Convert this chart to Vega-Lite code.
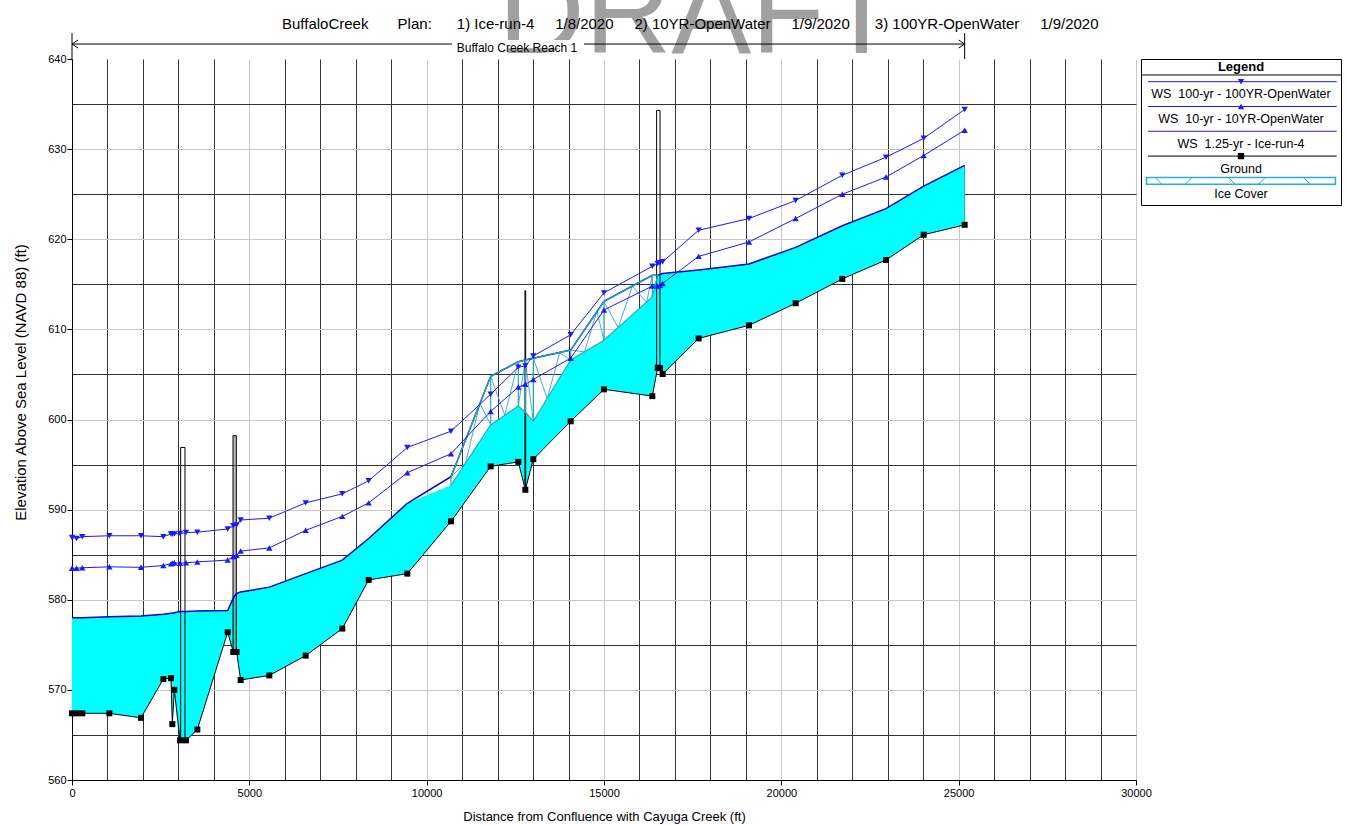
{
  "$schema": "https://vega.github.io/schema/vega-lite/v6.json",
  "autosize": {"type": "none"},
  "padding": {"left": 72, "top": 59, "right": 1275, "bottom": 766},
  "background": "white",
  "config": {"font": "Liberation Sans", "view": {"stroke": null}},
  "datasets": {
    "profile": [
      {"sta": 0, "ground": 567.4, "ws_ice": 578.0, "ice_fill_top": 578.0, "ws_10": 583.5, "ws_100": 586.9},
      {"sta": 130, "ground": 567.4, "ws_ice": 578.0, "ice_fill_top": 578.0, "ws_10": 583.5, "ws_100": 586.8},
      {"sta": 290, "ground": 567.4, "ws_ice": 578.0, "ice_fill_top": 578.0, "ws_10": 583.55, "ws_100": 587.0},
      {"sta": 1053, "ground": 567.4, "ws_ice": 578.1, "ice_fill_top": 578.1, "ws_10": 583.65, "ws_100": 587.1},
      {"sta": 1946, "ground": 566.9, "ws_ice": 578.2, "ice_fill_top": 578.2, "ws_10": 583.6, "ws_100": 587.1},
      {"sta": 2575, "ground": 571.2, "ws_ice": 578.4, "ice_fill_top": 578.4, "ws_10": 583.8, "ws_100": 587.0},
      {"sta": 2791, "ground": 571.3, "ws_ice": 578.5, "ice_fill_top": 578.5, "ws_10": 584.0, "ws_100": 587.3},
      {"sta": 2829, "ground": 566.2, "ws_ice": 578.5, "ice_fill_top": 578.5, "ws_10": 584.05, "ws_100": 587.3},
      {"sta": 2885, "ground": 570.0, "ws_ice": 578.55, "ice_fill_top": 578.55, "ws_10": 584.1, "ws_100": 587.3},
      {"sta": 3045, "ground": 564.4, "ws_ice": 578.7, "ice_fill_top": 578.7, "ws_10": 584.05, "ws_100": 587.35},
      {"sta": 3214, "ground": 564.4, "ws_ice": 578.7, "ice_fill_top": 578.7, "ws_10": 584.1, "ws_100": 587.45},
      {"sta": 3534, "ground": 565.6, "ws_ice": 578.75, "ice_fill_top": 578.75, "ws_10": 584.2, "ws_100": 587.5},
      {"sta": 4390, "ground": 576.4, "ws_ice": 578.8, "ice_fill_top": 578.8, "ws_10": 584.4, "ws_100": 587.85},
      {"sta": 4548, "ground": 574.2, "ws_ice": 580.2, "ice_fill_top": 580.2, "ws_10": 584.8, "ws_100": 588.2},
      {"sta": 4642, "ground": 574.2, "ws_ice": 580.7, "ice_fill_top": 580.7, "ws_10": 584.95, "ws_100": 588.3},
      {"sta": 4755, "ground": 571.1, "ws_ice": 580.85, "ice_fill_top": 580.85, "ws_10": 585.4, "ws_100": 588.85},
      {"sta": 5563, "ground": 571.6, "ws_ice": 581.4, "ice_fill_top": 581.4, "ws_10": 585.75, "ws_100": 589.05},
      {"sta": 6588, "ground": 573.8, "ws_ice": 582.9, "ice_fill_top": 582.9, "ws_10": 587.7, "ws_100": 590.75},
      {"sta": 7621, "ground": 576.8, "ws_ice": 584.4, "ice_fill_top": 584.4, "ws_10": 589.25, "ws_100": 591.75},
      {"sta": 8365, "ground": 582.2, "ws_ice": 586.8, "ice_fill_top": 586.8, "ws_10": 590.75, "ws_100": 593.2},
      {"sta": 9455, "ground": 582.9, "ws_ice": 590.7, "ice_fill_top": 590.7, "ws_10": 594.1, "ws_100": 596.9},
      {"sta": 10686, "ground": 588.7, "ws_ice": 593.65, "ice_fill_top": 592.7, "ws_10": 596.2, "ws_100": 598.7},
      {"sta": 11805, "ground": 594.8, "ws_ice": 604.8, "ice_fill_top": 599.4, "ws_10": 600.9, "ws_100": 602.8},
      {"sta": 12584, "ground": 595.3, "ws_ice": 606.4, "ice_fill_top": 601.5, "ws_10": 603.6, "ws_100": 605.8},
      {"sta": 12782, "ground": 592.2, "ws_ice": 606.6, "ice_fill_top": 600.8, "ws_10": 603.9, "ws_100": 605.95},
      {"sta": 13007, "ground": 595.6, "ws_ice": 606.8, "ice_fill_top": 599.8, "ws_10": 604.45, "ws_100": 607.05},
      {"sta": 14060, "ground": 599.8, "ws_ice": 607.7, "ice_fill_top": 606.6, "ws_10": 606.8, "ws_100": 609.4},
      {"sta": 14999, "ground": 603.35, "ws_ice": 613.1, "ice_fill_top": 608.8, "ws_10": 612.15, "ws_100": 614.05},
      {"sta": 16362, "ground": 602.6, "ws_ice": 616.0, "ice_fill_top": 613.6, "ws_10": 614.8, "ws_100": 617.0},
      {"sta": 16513, "ground": 605.75, "ws_ice": 616.0, "ice_fill_top": 616.0, "ws_10": 614.8, "ws_100": 617.3},
      {"sta": 16579, "ground": 605.7, "ws_ice": 616.1, "ice_fill_top": 616.1, "ws_10": 614.9, "ws_100": 617.4},
      {"sta": 16654, "ground": 605.05, "ws_ice": 616.2, "ice_fill_top": 616.2, "ws_10": 615.1, "ws_100": 617.5},
      {"sta": 17669, "ground": 609.0, "ws_ice": 616.6, "ice_fill_top": 616.6, "ws_10": 618.1, "ws_100": 621.0},
      {"sta": 19088, "ground": 610.45, "ws_ice": 617.25, "ice_fill_top": 617.25, "ws_10": 619.7, "ws_100": 622.3},
      {"sta": 20404, "ground": 612.9, "ws_ice": 619.1, "ice_fill_top": 619.1, "ws_10": 622.3, "ws_100": 624.3},
      {"sta": 21719, "ground": 615.6, "ws_ice": 621.5, "ice_fill_top": 621.5, "ws_10": 625.0, "ws_100": 627.1},
      {"sta": 22951, "ground": 617.7, "ws_ice": 623.4, "ice_fill_top": 623.4, "ws_10": 626.9, "ws_100": 629.1},
      {"sta": 24014, "ground": 620.5, "ws_ice": 625.9, "ice_fill_top": 625.9, "ws_10": 629.3, "ws_100": 631.2},
      {"sta": 25169, "ground": 621.6, "ws_ice": 628.2, "ice_fill_top": 628.2, "ws_10": 632.1, "ws_100": 634.4}
    ],
    "ice_hatch": [
      {"poly": "A", "sta": 10686, "elev": 593.65},
      {"poly": "A", "sta": 11100, "elev": 595.2},
      {"poly": "A", "sta": 11500, "elev": 601.8},
      {"poly": "A", "sta": 11805, "elev": 599.4},
      {"poly": "B", "sta": 11805, "elev": 604.8},
      {"poly": "B", "sta": 12200, "elev": 600.5},
      {"poly": "B", "sta": 12584, "elev": 606.4},
      {"poly": "C", "sta": 12584, "elev": 601.5},
      {"poly": "C", "sta": 12782, "elev": 606.6},
      {"poly": "C", "sta": 13007, "elev": 599.8},
      {"poly": "E", "sta": 13007, "elev": 606.8},
      {"poly": "E", "sta": 13400, "elev": 602.3},
      {"poly": "E", "sta": 13750, "elev": 607.4},
      {"poly": "E", "sta": 14060, "elev": 606.6},
      {"poly": "F", "sta": 14060, "elev": 607.7},
      {"poly": "F", "sta": 14450, "elev": 607.5},
      {"poly": "F", "sta": 14800, "elev": 612.0},
      {"poly": "F", "sta": 14999, "elev": 608.8},
      {"poly": "G", "sta": 14999, "elev": 613.1},
      {"poly": "G", "sta": 15400, "elev": 610.2},
      {"poly": "G", "sta": 15800, "elev": 614.8},
      {"poly": "G", "sta": 16200, "elev": 613.0},
      {"poly": "G", "sta": 16362, "elev": 616.0}
    ],
    "bridges": [
      {"name": "Bridge 1", "sta_ds": 3064, "sta_us": 3186, "bottom": 564.4, "top": 596.9},
      {"name": "Bridge 2", "sta_ds": 4540, "sta_us": 4633, "bottom": 574.2, "top": 598.2},
      {"name": "Bridge 3", "sta_ds": 12772, "sta_us": 12792, "bottom": 592.2, "top": 614.3},
      {"name": "Bridge 4", "sta_ds": 16484, "sta_us": 16579, "bottom": 605.7, "top": 634.3}
    ],
    "reach": [
      {"reach": "Buffalo Creek Reach 1", "ds_sta": 0, "us_sta": 25169}
    ],
    "legend": [
      {"i": 0, "kind": "ws100", "item": "WS\u00a0\u00a0100-yr - 100YR-OpenWater"},
      {"i": 1, "kind": "ws10", "item": "WS\u00a0\u00a010-yr - 10YR-OpenWater"},
      {"i": 2, "kind": "wsIce", "item": "WS\u00a0\u00a01.25-yr - Ice-run-4"},
      {"i": 3, "kind": "ground", "item": "Ground"},
      {"i": 4, "kind": "ice", "item": "Ice Cover"}
    ]
  },
  "hconcat": [
    {
      "width": 1064,
      "height": 721,
      "data": {"name": "profile"},
      "resolve": {"axis": {"x": "independent", "y": "independent"}},
      "layer": [
        {
          "mark": {"type": "point", "opacity": 0},
          "encoding": {
            "x": {"field": "sta", "type": "quantitative",
              "scale": {"domain": [0, 30000], "nice": false, "zero": false},
              "axis": {"orient": "top", "values": [1000, 2000, 3000, 4000, 6000, 7000, 8000, 9000, 11000, 12000, 13000, 14000, 16000, 17000, 18000, 19000, 21000, 22000, 23000, 24000, 26000, 27000, 28000, 29000],
                "grid": true, "gridColor": "#333333", "labels": false, "ticks": false, "domain": false, "title": null}},
            "y": {"field": "ground", "type": "quantitative",
              "scale": {"domain": [560, 640], "nice": false, "zero": false},
              "axis": {"orient": "right", "values": [565, 575, 585, 595, 605, 615, 625, 635],
                "grid": true, "gridColor": "#333333", "labels": false, "ticks": false, "domain": false, "title": null}}
          }
        },
        {
          "mark": {"type": "point", "opacity": 0},
          "encoding": {
            "x": {"field": "sta", "type": "quantitative",
              "axis": {"orient": "bottom", "values": [0, 5000, 10000, 15000, 20000, 25000, 30000], "format": "d",
                "grid": true, "gridColor": "#c8c8c8", "domainColor": "black", "tickColor": "black", "tickSize": 5,
                "labelFontSize": 11, "labelColor": "black", "labelPadding": 2, "labelFlush": false,
                "title": "Distance from Confluence with Cayuga Creek (ft)", "titleFontSize": 13, "titleFontWeight": "normal",
                "titleColor": "black", "titlePadding": 12}},
            "y": {"field": "ground", "type": "quantitative",
              "axis": {"orient": "left", "values": [560, 570, 580, 590, 600, 610, 620, 630, 640],
                "grid": true, "gridColor": {"condition": {"test": "datum.value >= 640", "value": "transparent"}, "value": "#c8c8c8"},
                "domainColor": "black", "tickColor": "black", "tickSize": 5,
                "labelFontSize": 11, "labelColor": "black", "labelPadding": 1,
                "title": "Elevation Above Sea Level (NAVD 88) (ft)", "titleFontSize": 15, "titleFontWeight": "normal",
                "titleColor": "black", "titleX": -52, "titleY": 323, "titleAngle": -90, "titleAlign": "center", "titleBaseline": "middle"}}
          }
        },
        {
          "layer": [
            {
              "data": {"name": "reach"},
              "mark": {"type": "text", "text": "DRAFT", "fontSize": 120, "color": "#a0a0a0", "align": "center", "baseline": "alphabetic"},
              "encoding": {
                "x": {"datum": 17650, "type": "quantitative", "axis": null},
                "y": {"datum": 640.67, "type": "quantitative", "axis": null}
              }
            },
            {
              "data": {"name": "reach"},
              "mark": {"type": "text", "text": "BuffaloCreek\u00a0\u00a0\u00a0\u00a0\u00a0\u00a0\u00a0Plan:\u00a0\u00a0\u00a0\u00a0\u00a0\u00a01) Ice-run-4\u00a0\u00a0\u00a0\u00a0\u00a01/8/2020\u00a0\u00a0\u00a0\u00a0\u00a02) 10YR-OpenWater\u00a0\u00a0\u00a0\u00a0\u00a01/9/2020\u00a0\u00a0\u00a0\u00a0\u00a0\u00a03) 100YR-OpenWater\u00a0\u00a0\u00a0\u00a0\u00a01/9/2020",
                "fontSize": 15, "color": "black", "align": "left", "baseline": "alphabetic"},
              "encoding": {
                "x": {"datum": 5921, "type": "quantitative", "axis": null},
                "y": {"datum": 643.28, "type": "quantitative", "axis": null}
              }
            },
            {
              "data": {"name": "reach"},
              "mark": {"type": "rule", "color": "black", "strokeWidth": 1},
              "encoding": {
                "x": {"field": "ds_sta", "type": "quantitative", "axis": null},
                "x2": {"field": "us_sta"},
                "y": {"datum": 641.66, "type": "quantitative", "axis": null}
              }
            },
            {
              "data": {"name": "reach"},
              "mark": {"type": "rect", "color": "white", "opacity": 1},
              "encoding": {
                "x": {"datum": 10714, "type": "quantitative", "axis": null},
                "x2": {"datum": 14436},
                "y": {"datum": 641.2, "type": "quantitative", "axis": null},
                "y2": {"datum": 642.1}
              }
            },
            {
              "data": {"name": "reach"},
              "mark": {"type": "text", "fontSize": 12, "color": "black", "align": "center", "baseline": "alphabetic"},
              "encoding": {
                "text": {"field": "reach"},
                "x": {"datum": 12547, "type": "quantitative", "axis": null},
                "y": {"datum": 640.78, "type": "quantitative", "axis": null}
              }
            },
            {
              "data": {"name": "reach"},
              "mark": {"type": "rule", "color": "black", "strokeWidth": 1},
              "encoding": {
                "x": {"field": "ds_sta", "type": "quantitative", "axis": null},
                "y": {"datum": 640, "type": "quantitative", "axis": null},
                "y2": {"datum": 642.88}
              }
            },
            {
              "data": {"name": "reach"},
              "mark": {"type": "rule", "color": "black", "strokeWidth": 1},
              "encoding": {
                "x": {"field": "us_sta", "type": "quantitative", "axis": null},
                "y": {"datum": 640, "type": "quantitative", "axis": null},
                "y2": {"datum": 642.88}
              }
            },
            {
              "data": {"name": "reach"},
              "mark": {"type": "point", "shape": "M 1.5 -1 L 0 0 L 1.5 1", "size": 64, "filled": false, "color": "black", "strokeWidth": 1, "opacity": 1},
              "encoding": {
                "x": {"field": "ds_sta", "type": "quantitative", "axis": null},
                "y": {"datum": 641.66, "type": "quantitative", "axis": null}
              }
            },
            {
              "data": {"name": "reach"},
              "mark": {"type": "point", "shape": "M -1.5 -1 L 0 0 L -1.5 1", "size": 64, "filled": false, "color": "black", "strokeWidth": 1, "opacity": 1},
              "encoding": {
                "x": {"field": "us_sta", "type": "quantitative", "axis": null},
                "y": {"datum": 641.66, "type": "quantitative", "axis": null}
              }
            },
            {
              "mark": {"type": "area", "color": "#00ffff", "opacity": 1},
              "encoding": {
                "x": {"field": "sta", "type": "quantitative", "axis": null},
                "y": {"field": "ice_fill_top", "type": "quantitative", "axis": null},
                "y2": {"field": "ground"}
              }
            },
            {
              "data": {"name": "ice_hatch"},
              "mark": {"type": "line", "color": "#4aa8f0", "strokeWidth": 1},
              "encoding": {
                "x": {"field": "sta", "type": "quantitative", "axis": null},
                "y": {"field": "elev", "type": "quantitative", "axis": null},
                "detail": {"field": "poly"}
              }
            },
            {
              "transform": [{"filter": "datum.sta == 25169"}],
              "mark": {"type": "rule", "color": "#1fa5a5", "strokeWidth": 1},
              "encoding": {
                "x": {"field": "sta", "type": "quantitative", "axis": null},
                "y": {"field": "ground", "type": "quantitative", "axis": null},
                "y2": {"field": "ws_ice"}
              }
            },
            {
              "data": {"name": "bridges"},
              "transform": [{"filter": "datum.name != 'Bridge 2'"}],
              "mark": {"type": "rect", "fill": "white", "fillOpacity": 0, "stroke": "black", "strokeWidth": 1},
              "encoding": {
                "x": {"field": "sta_ds", "type": "quantitative", "axis": null},
                "x2": {"field": "sta_us"},
                "y": {"field": "bottom", "type": "quantitative", "axis": null},
                "y2": {"field": "top"}
              }
            },
            {
              "data": {"name": "bridges"},
              "transform": [{"filter": "datum.name == 'Bridge 2'"}],
              "mark": {"type": "rect", "fill": "#808080", "fillOpacity": 0.5, "stroke": "black", "strokeWidth": 1},
              "encoding": {
                "x": {"field": "sta_ds", "type": "quantitative", "axis": null},
                "x2": {"field": "sta_us"},
                "y": {"field": "bottom", "type": "quantitative", "axis": null},
                "y2": {"field": "top"}
              }
            },
            {
              "mark": {"type": "line", "color": "black", "strokeWidth": 1,
                "point": {"shape": "square", "size": 36, "filled": true, "color": "black", "opacity": 1}},
              "encoding": {
                "x": {"field": "sta", "type": "quantitative", "axis": null},
                "y": {"field": "ground", "type": "quantitative", "axis": null}
              }
            },
            {
              "mark": {"type": "line", "color": "#0000cc", "strokeWidth": 1.5},
              "encoding": {
                "x": {"field": "sta", "type": "quantitative", "axis": null},
                "y": {"field": "ws_ice", "type": "quantitative", "axis": null}
              }
            },
            {
              "transform": [{"filter": "datum.sta >= 10686 && datum.sta <= 16513"}],
              "mark": {"type": "line", "color": "#22b0b0", "strokeWidth": 1.2},
              "encoding": {
                "x": {"field": "sta", "type": "quantitative", "axis": null},
                "y": {"field": "ice_fill_top", "type": "quantitative", "axis": null}
              }
            },
            {
              "transform": [{"filter": "datum.sta >= 10686 && datum.sta <= 16513"}],
              "mark": {"type": "line", "color": "#22b0b0", "strokeWidth": 1.2},
              "encoding": {
                "x": {"field": "sta", "type": "quantitative", "axis": null},
                "y": {"field": "ws_ice", "type": "quantitative", "axis": null}
              }
            },
            {
              "transform": [{"filter": "datum.ws_ice - datum.ice_fill_top > 0.2"}],
              "mark": {"type": "rule", "color": "#22b0b0", "strokeWidth": 1.2},
              "encoding": {
                "x": {"field": "sta", "type": "quantitative", "axis": null},
                "y": {"field": "ice_fill_top", "type": "quantitative", "axis": null},
                "y2": {"field": "ws_ice"}
              }
            },
            {
              "mark": {"type": "line", "color": "#1a1aff", "strokeWidth": 1,
                "point": {"shape": "triangle-up", "size": 40, "filled": true, "color": "#1a1aff", "opacity": 1}},
              "encoding": {
                "x": {"field": "sta", "type": "quantitative", "axis": null},
                "y": {"field": "ws_10", "type": "quantitative", "axis": null}
              }
            },
            {
              "mark": {"type": "line", "color": "#1a1aff", "strokeWidth": 1,
                "point": {"shape": "triangle-down", "size": 40, "filled": true, "color": "#1a1aff", "opacity": 1}},
              "encoding": {
                "x": {"field": "sta", "type": "quantitative", "axis": null},
                "y": {"field": "ws_100", "type": "quantitative", "axis": null}
              }
            }
          ]
        }
      ]
    },
    {
      "width": 200,
      "height": 146,
      "view": {"stroke": "black", "strokeWidth": 1},
      "data": {"name": "legend"},
      "layer": [
        {
          "transform": [{"filter": "datum.i == 0"}],
          "mark": {"type": "text", "text": "Legend", "fontSize": 13, "fontWeight": "bold", "color": "black", "align": "center", "baseline": "middle"},
          "encoding": {
            "x": {"datum": 0.5, "type": "quantitative", "scale": {"domain": [0, 1], "nice": false, "zero": false}, "axis": null},
            "y": {"datum": -0.605, "type": "quantitative", "scale": {"domain": [-0.915, 4.972], "reverse": true, "nice": false, "zero": false}, "axis": null}
          }
        },
        {
          "transform": [{"filter": "datum.i == 0"}],
          "mark": {"type": "rule", "color": "black", "strokeWidth": 1},
          "encoding": {
            "x": {"datum": 0, "type": "quantitative", "axis": null},
            "x2": {"datum": 1},
            "y": {"datum": -0.27, "type": "quantitative", "axis": null}
          }
        },
        {
          "transform": [{"filter": "datum.kind != 'ice'"}],
          "mark": {"type": "rule", "strokeWidth": 1},
          "encoding": {
            "x": {"datum": 0.035, "type": "quantitative", "axis": null},
            "x2": {"datum": 0.9785},
            "y": {"field": "i", "type": "quantitative", "axis": null},
            "color": {"field": "kind", "type": "nominal", "legend": null,
              "scale": {"domain": ["ws100", "ws10", "wsIce", "ground"], "range": ["#1a1aff", "#1a1aff", "#1a1aff", "#000000"]}}
          }
        },
        {
          "transform": [{"filter": "datum.kind == 'ws100' || datum.kind == 'ws10' || datum.kind == 'ground'"}],
          "mark": {"type": "point", "filled": true, "size": 40, "opacity": 1},
          "encoding": {
            "x": {"datum": 0.5, "type": "quantitative", "axis": null},
            "y": {"field": "i", "type": "quantitative", "axis": null},
            "shape": {"field": "kind", "type": "nominal", "legend": null,
              "scale": {"domain": ["ws100", "ws10", "ground"], "range": ["triangle-down", "triangle-up", "square"]}},
            "color": {"field": "kind", "type": "nominal", "legend": null,
              "scale": {"domain": ["ws100", "ws10", "wsIce", "ground"], "range": ["#1a1aff", "#1a1aff", "#1a1aff", "#000000"]}}
          }
        },
        {
          "transform": [{"filter": "datum.kind == 'ice'"}],
          "mark": {"type": "point", "shape": "M -1 -0.0355 H 1 V 0.0355 H -1 Z", "size": 35721, "fill": "white", "stroke": "#22b5c8", "strokeWidth": 1.5, "opacity": 1},
          "encoding": {
            "x": {"datum": 0.5, "type": "quantitative", "axis": null},
            "y": {"field": "i", "type": "quantitative", "axis": null}
          }
        },
        {
          "transform": [{"filter": "datum.kind == 'ice'"}],
          "mark": {"type": "point", "shape": "M -0.908 -0.0355 L -0.838 0.0355 M -0.59 0.0355 L -0.52 -0.0355 M -0.132 -0.0355 L -0.061 0.0355 M 0.185 0.0355 L 0.256 -0.0355 M 0.661 -0.0355 L 0.732 0.0355",
            "size": 35721, "filled": false, "stroke": "#3a9ee0", "strokeWidth": 1, "opacity": 1},
          "encoding": {
            "x": {"datum": 0.5, "type": "quantitative", "axis": null},
            "y": {"field": "i", "type": "quantitative", "axis": null}
          }
        },
        {
          "mark": {"type": "text", "fontSize": 12.5, "color": "black", "align": "center", "baseline": "middle", "dy": 12.8},
          "encoding": {
            "text": {"field": "item"},
            "x": {"datum": 0.5, "type": "quantitative", "axis": null},
            "y": {"field": "i", "type": "quantitative", "axis": null}
          }
        }
      ]
    }
  ],
  "spacing": 5,
  "bounds": "flush"
}
